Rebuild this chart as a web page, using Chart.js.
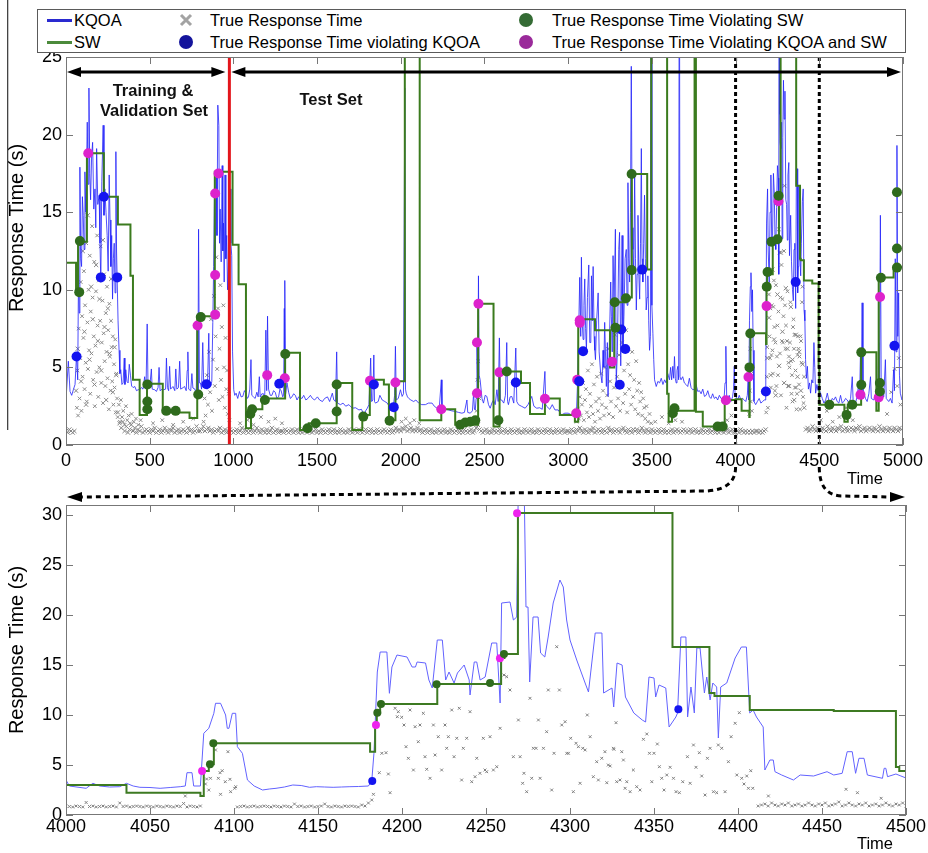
<!DOCTYPE html>
<html><head><meta charset="utf-8">
<script src="https://cdn.jsdelivr.net/npm/chart.js@4.4.0/dist/chart.umd.min.js"></script>
<style>
html,body{margin:0;padding:0;background:#fff;}
#wrap{position:relative;width:928px;height:853px;overflow:hidden;font-family:'Liberation Sans',Arial,sans-serif;}
canvas{position:absolute;left:0;}
#top{top:0;width:928px;height:470px;}
#bot{top:470px;width:928px;height:383px;}
#ov{top:0;width:928px;height:853px;pointer-events:none;}
#legend{position:absolute;left:37px;top:9px;width:867px;height:42px;border:1px solid #5a5a5a;background:#fff;font-size:16.5px;color:#000;}
#legend .tx{position:absolute;line-height:20px;white-space:nowrap;}
#legend .ln{position:absolute;width:25px;height:3px;}
#legend .dot{position:absolute;width:14px;height:14px;border-radius:50%;}
#legend svg{position:absolute;}
</style></head>
<body><div id="wrap">
<canvas id="top" width="928" height="470"></canvas>
<canvas id="bot" width="928" height="383"></canvas>
<canvas id="ov" width="928" height="853"></canvas>
<div id="legend">
 <span class="ln" style="left:9px;top:9px;background:#2a2ad0"></span><span class="tx" style="left:36px;top:0px">KQOA</span>
 <span class="ln" style="left:9px;top:31px;background:#4b8a3b"></span><span class="tx" style="left:36px;top:22px">SW</span>
 <svg style="left:141px;top:3px" width="14" height="14"><path d="M2 2L12 12M12 2L2 12" stroke="#a3a3a3" stroke-width="3"/></svg>
 <span class="tx" style="left:172px;top:0px">True Response Time</span>
 <span class="dot" style="left:141px;top:25px;background:#14149c"></span>
 <span class="tx" style="left:172px;top:22px">True Response Time violating KQOA</span>
 <span class="dot" style="left:481px;top:3px;background:#346b34"></span>
 <span class="tx" style="left:514px;top:0px">True Response Time Violating SW</span>
 <span class="dot" style="left:481px;top:25px;background:#9a2a9a"></span>
 <span class="tx" style="left:514px;top:22px">True Response Time Violating KQOA and SW</span>
</div>
</div>
<script>
// ---------------- DATA (time, response time in s) ----------------
const splitTime = 976, zoomStart = 4000, zoomEnd = 4500;
const topXTicks = [0,500,1000,1500,2000,2500,3000,3500,4000,4500,5000];
const topYTicks = [0,5,10,15,20,25];
const botXTicks = [4000,4050,4100,4150,4200,4250,4300,4350,4400,4450,4500];
const botYTicks = [0,5,10,15,20,25,30];

const kqoaTop = [[0,2.9],[14,5.4],[24,3.45],[34,3.2],[45,3.6],[54,3.9],[63,5.8],[70,4.2],[75,11.5],[79,8.5],[83,17.9],[88,12.0],[93,11.5],[98,16.0],[103,14.8],[108,12.6],[113,17.6],[118,15.0],[122,17.2],[127,20.8],[132,16.8],[137,23.0],[142,17.5],[147,15.8],[153,18.6],[159,19.5],[166,15.2],[173,16.5],[178,14.0],[183,19.1],[190,15.5],[198,16.1],[203,13.0],[208,10.5],[214,17.0],[222,20.6],[227,14.8],[232,16.5],[239,15.0],[246,13.5],[252,11.2],[258,17.4],[263,14.5],[268,11.5],[273,13.5],[278,9.4],[283,12.0],[288,13.0],[293,9.8],[298,18.9],[302,12.5],[306,10.5],[311,8.0],[317,6.1],[322,4.6],[327,4.85],[334,3.9],[341,4.0],[348,5.6],[352,3.9],[357,4.85],[364,4.1],[371,4.0],[378,5.2],[385,4.5],[392,3.8],[401,3.7],
[411,3.77],[421,3.5],[431,3.56],[440,3.56],[450,3.7],[460,3.6],[470,4.4],[478,3.6],[485,7.8],[490,3.77],[500,3.7],[510,4.9],[515,3.6],[530,3.56],[540,3.45],[550,3.7],[556,5.0],[562,3.5],[575,3.6],[583,3.56],[595,3.6],[600,5.6],[606,3.7],[613,3.5],[619,5.07],[625,3.6],[639,3.77],[650,3.5],[656,4.9],[662,3.6],[672,3.7],[679,5.4],[685,3.6],[700,3.7],[708,3.77],[718,3.5],[724,4.8],[728,6.0],[733,3.6],[745,3.5],[752,4.6],[758,3.67],[770,3.6],[778,3.3],[784,7.6],[788,3.4],[792,13.9],[797,4.0],[803,4.0],[810,3.6],[817,6.6],[823,3.7],[830,3.8],[837,4.0],[845,3.6],[853,7.2],[858,3.8],[865,3.8],[871,4.1],[877,7.9],[882,11.5],[887,16.3],[892,12.0],[897,17.4],[902,13.5],[907,21.9],[913,20.6],[917,13.0],[921,15.2],[927,11.8],[933,18.0],[937,12.5],[941,14.3],[945,10.5],[950,17.4],[955,12.0],[960,13.5],[965,10.0],[970,11.5],[975,14.0],[980,16.5],[985,13.0],[990,12.2],[995,6.0],[1002,3.56],
[1008,3.2],[1016,3.34],[1026,3.0],[1036,3.45],[1046,3.1],[1056,3.13],[1066,3.5],[1075,3.34],[1083,3.0],[1090,3.1],[1098,3.6],[1105,5.5],[1110,3.2],[1120,3.1],[1130,3.0],[1140,3.4],[1148,3.1],[1155,4.4],[1160,3.1],[1170,3.3],[1180,3.3],[1187,3.0],[1194,7.4],[1199,3.5],[1204,8.3],[1210,3.6],[1220,3.2],[1230,3.2],[1240,3.5],[1250,3.4],[1260,3.0],[1270,3.1],[1278,3.6],[1285,3.5],[1295,3.1],[1300,3.2],[1304,8.8],[1306,3.4],[1308,10.6],[1312,3.3],[1320,4.0],[1330,3.4],[1340,3.0],[1350,3.1],[1360,3.3],[1370,3.2],[1380,2.9],[1390,3.1],
[1410,3.0],[1420,3.2],[1433,2.9],[1445,3.0],[1460,3.2],[1472,3.0],[1485,2.9],[1502,3.1],[1515,2.9],[1532,2.8],[1545,3.0],[1562,3.1],[1575,2.8],[1591,3.34],[1600,2.9],[1610,2.8],[1617,6.0],[1622,2.7],[1640,2.6],[1655,2.7],[1671,2.5],[1690,2.6],[1710,2.37],[1730,2.4],[1750,2.26],[1765,2.3],[1780,1.94],[1790,2.2],[1800,2.37],[1810,2.6],[1820,5.6],[1826,2.8],[1833,2.9],[1839,5.8],[1843,2.8],[1849,2.7],[1865,2.8],[1875,3.2],[1889,2.9],[1905,2.8],[1919,2.7],[1930,2.5],[1939,2.37],[1950,2.6],[1958,2.7],[1963,3.2],[1968,6.36],[1973,2.9],[1985,3.0],[1998,3.56],[2008,3.13],[2016,3.3],[2024,23.0],[2028,3.6],[2032,3.34],[2040,3.1],[2048,3.0],[2060,2.9],[2077,2.8],[2090,2.9],[2107,2.7],[2125,2.6],[2147,2.6],[2165,2.7],[2187,2.7],[2200,2.5],[2216,2.37],[2230,2.4],[2242,4.2],[2246,2.4],[2250,2.26],[2270,2.3],[2286,2.26],[2305,2.2],[2326,2.16],[2345,2.1],[2365,2.05],[2380,2.1],[2395,2.9],[2400,2.1],[2415,2.05],[2428,2.2],[2435,3.34],[2440,2.3],[2445,2.26],[2450,3.0],[2455,6.6],[2460,3.5],[2464,10.9],[2468,4.5],[2474,4.2],[2485,3.0],[2494,2.7],[2504,3.2],[2514,3.13],[2524,2.6],[2534,2.37],[2544,2.7],[2554,2.9],[2564,2.6],[2574,3.56],[2582,2.8],[2589,6.9],[2595,2.9],[2603,2.9],[2615,2.7],[2625,3.2],[2633,6.6],[2638,2.8],[2643,2.6],[2653,3.1],[2663,3.13],[2675,2.7],[2687,6.25],[2693,2.8],[2703,2.6],[2720,2.5],[2743,2.37],[2760,2.6],[2782,3.13],[2795,2.5],[2812,2.37],[2830,2.4],[2845,2.3],[2861,4.74],[2866,2.6],[2871,2.5],[2890,2.3],[2905,2.6],[2921,2.26],[2940,2.26],[2960,1.94],[2980,2.05],[3000,2.05],[3020,1.94],[3040,1.9],[3050,2.2],
[3056,4.0],[3063,7.5],[3069,10.8],[3075,7.0],[3079,12.1],[3084,8.0],[3089,6.8],[3094,9.0],[3099,10.7],[3104,7.5],[3109,6.1],[3115,9.5],[3123,11.6],[3129,6.6],[3135,6.6],[3139,10.9],[3144,8.0],[3149,11.5],[3155,7.0],[3159,6.1],[3163,5.5],[3170,8.0],[3179,9.8],[3185,6.0],[3194,4.6],[3202,4.0],[3208,6.1],[3213,5.0],[3218,7.9],[3228,3.77],[3234,6.6],[3238,3.13],[3245,6.0],[3254,10.5],[3258,8.3],[3263,6.0],[3268,12.2],[3274,9.0],[3282,13.9],[3287,4.0],[3294,6.1],[3302,12.6],[3307,13.7],[3314,5.1],[3322,13.5],[3327,6.1],[3333,8.3],[3340,12.0],[3347,12.6],[3352,9.0],[3357,16.9],[3362,12.0],[3367,10.5],[3372,15.0],[3377,24.4],[3382,14.0],[3387,12.6],[3392,11.0],[3397,17.4],[3402,12.0],[3407,8.7],[3412,11.0],[3417,14.8],[3422,11.0],[3427,9.4],[3432,13.0],[3437,19.1],[3441,12.0],[3446,10.5],[3451,13.0],[3456,16.1],[3461,12.0],[3466,8.7],[3471,9.5],[3476,10.9],[3481,8.0],[3486,6.1],[3491,7.0],[3496,40],[3500,9.0],[3506,7.2],[3511,5.5],[3516,4.2],[3526,3.77],
[3536,4.1],[3546,4.0],[3556,4.3],[3566,3.9],[3576,4.2],[3585,4.0],[3595,4.6],[3605,4.2],[3612,5.0],[3618,4.2],[3625,5.07],[3630,4.3],[3635,5.7],[3640,4.3],[3645,4.0],[3650,4.8],[3655,5.07],[3660,4.2],[3664,40],[3668,4.4],[3674,4.2],[3684,4.4],[3694,4.0],[3704,3.9],[3714,3.77],[3724,4.3],[3734,3.7],[3744,3.56],[3754,3.6],[3764,3.9],[3774,3.45],[3784,3.5],[3794,3.3],[3804,3.6],[3814,3.13],[3824,3.2],[3834,3.5],[3844,3.1],[3853,3.0],[3863,3.3],[3873,3.0],[3883,3.1],[3893,2.9],[3903,3.2],[3913,3.0],[3923,3.0],[3932,3.1],[3937,4.0],[3942,6.36],[3947,3.0],[3952,2.9],[3962,3.2],[3972,2.8],[3982,3.1],[3988,3.6],[3992,5.07],[3997,3.2],[4002,3.13],
[4012,2.9],[4022,3.2],[4032,2.9],[4042,3.0],[4052,2.9],[4061,2.8],[4070,3.2],[4075,4.2],[4079,2.9],[4083,8.0],[4088,10.2],[4092,11.1],[4097,8.6],[4101,10.0],[4105,6.1],[4110,2.8],[4120,2.6],[4130,2.8],[4141,3.0],[4151,2.7],[4161,2.8],[4171,2.9],[4180,2.9],[4185,14.3],[4191,16.5],[4195,12.5],[4201,10.5],[4206,15.0],[4211,17.4],[4216,13.0],[4221,13.5],[4226,17.5],[4231,16.3],[4236,13.0],[4240,12.6],[4245,15.3],[4250,18.0],[4255,17.2],[4258,11.0],[4260,40],[4263,21.3],[4266,19.5],[4270,19.1],[4275,20.8],[4278,13.3],[4282,19.8],[4286,23.5],[4290,21.0],[4295,22.8],[4300,15.8],[4305,15.5],[4309,13.2],[4313,17.4],[4318,18.2],[4322,12.2],[4329,14.8],[4334,11.8],[4340,10.0],[4345,9.3],[4349,12.6],[4354,13.0],[4359,8.8],[4363,17.4],[4368,17.8],[4371,9.8],[4375,11.5],[4378,16.7],[4382,12.8],[4389,10.9],[4393,13.0],[4399,15.7],[4404,16.5],[4409,8.7],[4414,8.0],[4418,5.5],[4423,4.3],[4429,5.07],[4435,3.6],[4442,4.0],[4448,3.34],[4455,4.2],[4462,4.0],[4468,6.6],[4473,5.0],[4478,3.34],[4486,3.9],[4492,3.5],[4498,3.56],
[4508,3.34],[4518,3.0],[4528,2.7],[4538,2.9],[4548,3.34],[4558,2.8],[4567,2.7],[4577,3.0],[4587,2.9],[4597,3.1],[4607,2.8],[4617,2.7],[4627,3.2],[4637,2.7],[4647,2.8],[4657,3.0],[4667,2.9],[4677,2.7],[4687,3.0],[4697,4.4],[4702,2.9],[4716,2.7],[4726,3.1],[4736,4.0],[4741,3.0],[4746,5.93],[4751,3.3],[4756,9.16],[4761,3.4],[4766,3.34],[4776,3.0],[4786,2.8],[4796,3.3],[4806,4.4],[4811,3.0],[4825,2.9],[4835,3.2],[4845,3.34],[4850,3.0],[4855,6.6],[4860,3.5],[4865,14.8],[4870,3.6],[4875,3.34],[4885,3.1],[4895,5.5],[4900,3.0],[4915,2.8],[4925,3.0],[4935,2.7],[4944,4.85],[4949,3.5],[4954,12.0],[4959,6.0],[4964,19.3],[4969,7.0],[4974,9.8],[4979,4.5],[4984,3.34],[4994,2.9],[5000,3.0]];

// SW: value holds from the given time until the next entry
const swTop = [[0,11.75],[60,9.9],[72,13.1],[125,18.8],[226,16.0],[310,14.2],[385,10.9],[400,4.2],[440,1.94],[484,3.95],[578,2.1],[738,1.74],[784,8.3],[889,17.6],[995,12.9],[1031,10.35],[1075,1.08],[1105,2.3],[1173,3.0],[1309,5.95],[1398,0.97],[1450,1.4],[1617,4.0],[1710,0.97],[1770,1.94],[1815,4.2],[1899,3.9],[1929,1.6],[1968,4.1],[2024,40],[2113,1.6],[2242,2.3],[2325,1.3],[2462,9.1],[2554,1.2],[2590,4.74],[2718,4.0],[2772,2.0],[2861,3.0],[2950,1.94],[3040,1.5],[3060,8.1],[3160,7.4],[3250,5.0],[3275,9.2],[3345,9.5],[3380,17.46],[3472,11.3],[3496,40],[3591,3.3],[3600,1.5],[3620,2.2],[3755,40],[3763,2.15],[3804,1.2],[3935,2.9],[4000,2.95],[4036,2.2],[4082,1.8],[4084,5.0],[4089,7.2],[4182,6.5],[4185,10.2],[4188,11.0],[4222,13.1],[4259,15.6],[4261,16.0],[4269,40],[4362,16.7],[4385,12.0],[4389,11.9],[4408,10.6],[4458,10.4],[4496,5.0],[4500,2.6],[4650,1.5],[4670,2.6],[4750,5.97],[4841,2.2],[4855,10.8],[4944,11.45],[5000,11.45]];

const greenTop = [[79,9.85],[83,13.15],[486,3.9],[486,2.8],[486,2.3],[599,2.2],[655,2.2],[790,3.25],[805,8.24],[1101,2.0],[1112,2.3],[1188,2.9],[1310,5.86],[1443,1.08],[1492,1.4],[1617,3.9],[1617,2.16],[1776,1.83],[1933,1.57],[2355,1.3],[2385,1.45],[2415,1.5],[2445,1.6],[2583,1.6],[2633,4.74],[3278,9.2],[3282,7.55],[3345,9.45],[3379,11.27],[3379,17.46],[3625,2.05],[3635,2.37],[3893,1.19],[3923,1.19],[4083,5.0],[4088,7.18],[4186,10.2],[4191,11.15],[4214,13.1],[4250,13.26],[4257,16.06],[4560,2.6],[4663,1.94],[4697,2.6],[4751,5.97],[4751,3.88],[4862,3.99],[4862,3.45],[4868,10.78],[4964,16.28],[4964,12.66],[4964,11.43]];
const blueTop = [[63,5.7],[208,10.8],[226,16.0],[306,10.8],[839,3.92],[1274,3.95],[1839,3.9],[1958,2.44],[2687,4.03],[3066,4.1],[3089,6.04],[3308,3.88],[3317,7.44],[3341,6.19],[3442,11.3],[4181,3.45],[4359,10.5],[4949,6.4]];
const pinkTop = [[133,18.8],[786,7.7],[891,16.2],[911,17.5],[891,10.95],[891,8.4],[1202,4.5],[1307,4.3],[1816,4.14],[1968,4.03],[2242,2.3],[2455,3.34],[2455,6.6],[2464,9.1],[2589,4.68],[2861,2.98],[3048,2.05],[3054,4.2],[3069,7.87],[3069,8.04],[3262,5.37],[3942,2.88],[4077,4.38],[4185,8.95],[4256,15.7],[4746,3.23],[4855,3.07],[4863,9.54]];

// true response time, one reading every 10 time units from t = 0
const topBaseStep = 10;
const trueTopBase = [
0.9,0.8,1.0,0.9,0.8,0.9,3.5,6.2,9.8,4.1, 12.5,7.3,2.6,14.8,5.5,10.2,8.1,3.9,11.6,6.7,
9.4,4.8,13.2,7.6,2.9,8.8,5.9,10.7,3.4,6.3, 4.5,2.1,1.4,1.1,1.5,0.9,1.2,0.8,1.0,1.3,
0.9,1.1,0.8,1.0,0.9,1.2,0.8,0.9,1.0,0.9, 0.8,1.0,0.9,1.1,0.8,0.9,1.0,0.8,0.9,1.1,
0.9,0.8,1.0,0.9,1.1,0.8,0.9,1.0,0.8,0.9, 1.0,0.9,0.8,1.1,0.9,1.0,0.8,0.9,1.2,0.9,
0.9,1.0,1.2,0.9,1.0,1.1,0.9,1.0,0.8,0.9, 1.0,0.9,1.1,0.8,0.9,1.0,0.8,0.9,1.0,0.9,
0.8,0.9,1.0,0.8,0.9,1.1,0.8,1.0,0.9,0.8, 0.9,1.0,0.8,0.9,1.1,0.9,0.8,1.0,0.9,0.8,
1.0,0.8,0.9,1.1,0.8,0.9,1.0,0.8,0.9,0.9, 0.8,1.0,0.9,0.8,0.9,1.0,0.8,0.9,1.0,0.8,
0.9,0.8,1.0,0.9,0.8,0.9,1.0,0.8,0.9,1.0, 0.8,0.9,0.8,1.0,0.9,0.8,0.9,1.0,0.8,0.9,
1.0,0.8,0.9,0.8,1.0,0.9,0.8,0.9,0.8,1.0, 0.9,0.8,1.0,0.9,0.8,1.0,0.9,0.8,0.9,1.0,
0.8,0.9,1.0,0.8,0.9,0.8,1.0,0.9,0.8,0.9, 1.0,0.9,0.8,0.9,1.0,0.8,0.9,1.1,0.9,1.0,
0.9,1.1,1.0,1.2,0.9,1.0,1.1,0.9,1.0,0.9, 1.1,0.9,1.0,0.8,0.9,1.0,0.8,0.9,1.0,0.8,
0.9,0.8,1.0,0.9,0.8,0.9,1.0,0.8,0.9,0.8, 1.0,0.9,0.8,0.9,1.0,0.8,0.9,0.8,1.0,0.9,
0.8,0.9,1.0,0.8,0.9,1.1,1.3,1.0,0.9,0.8, 0.9,1.0,0.8,0.9,0.8,1.0,0.9,0.8,0.9,1.0,
0.8,0.9,1.0,0.8,0.9,0.8,1.0,0.9,0.8,0.9, 1.0,0.8,0.9,0.8,1.0,0.9,0.8,0.9,1.0,0.8,
0.9,0.8,1.0,0.9,0.8,0.9,1.0,0.8,0.9,1.0, 0.8,0.9,0.8,1.0,0.9,0.8,0.9,1.0,0.8,0.9,
0.9,0.8,1.0,0.9,0.8,1.0,0.9,1.1,0.9,0.8, 1.0,0.9,0.8,1.0,0.9,1.1,0.8,0.9,1.0,0.9,
0.8,1.0,0.9,0.8,1.1,0.9,1.0,0.8,0.9,1.0, 0.9,0.8,1.0,1.1,0.9,0.8,1.0,0.9,0.8,1.0,
0.9,1.0,0.8,0.9,1.1,0.9,0.8,1.0,0.9,0.8, 1.0,0.9,0.8,0.9,1.0,0.8,0.9,1.0,0.8,0.9,
0.8,0.9,1.0,0.8,0.9,1.0,0.9,0.8,0.9,1.0, 0.9,0.8,0.9,1.0,0.8,0.9,1.0,0.8,0.9,0.8,
1.0,0.9,0.8,0.9,1.0,0.8,0.9,1.0,0.8,0.9, 0.8,0.9,1.0,0.8,0.9,1.0,0.8,0.9,1.0,0.8,
0.8,0.9,0.8,1.0,0.9,0.8,0.9,0.8,0.9,0.8, 0.9,0.8,0.9,0.9,0.8,0.9,0.8,0.9,1.0,5.6,
8.2,4.5,11.3,6.8,3.2,9.7,5.1,12.4,7.3,4.0, 10.1,6.2,3.8,8.9,5.5,2.9,7.1,4.4,6.0,3.5,
5.2,2.4,1.0,1.1,0.9,1.0,1.2,1.0,0.9,1.1, 1.0,0.9,1.1,1.0,0.9,1.2,1.0,0.9,1.1,1.0,
0.9,1.1,1.0,1.2,0.9,1.0,1.1,0.9,1.0,1.1, 1.0,0.9,1.1,1.0,1.2,0.9,1.0,1.1,0.9,1.0,
1.1,1.0,0.9,1.1,1.0,0.9,1.2,1.0,0.9,1.1, 1.0,0.9,1.1,1.0,0.9,1.1,1.0,0.9,1.1,1.0];

const trueTopExtra = [[65,2.4],[68,4.8],[72,1.9],[76,7.5],[81,3.0],[85,5.6],[88,10.5],[92,2.2],[96,8.3],[99,4.4],[104,6.9],[107,11.2],[111,3.6],[114,9.0],[118,5.3],[121,13.0],[124,2.8],[128,7.9],[131,4.9],[135,10.0],[138,6.1],[142,12.2],[145,3.3],[148,8.6],[152,5.9],[156,14.1],[159,9.5],[162,4.2],[166,7.0],[169,11.8],[172,2.5],[176,6.4],[179,9.9],[183,4.7],[186,13.5],[189,7.7],[193,3.1],[196,10.6],[199,5.0],[204,8.0],[207,12.8],[211,4.0],[214,6.6],[218,9.3],[221,2.7],[225,7.2],[228,11.0],[231,5.4],[235,3.8],[238,8.5],[242,6.0],[245,10.2],[248,4.3],[252,7.4],[256,2.3],[259,9.1],[262,5.7],[266,3.5],[269,8.0],[273,6.3],[276,4.1],[280,7.0],[283,2.6],[287,5.2],[290,3.7],[294,6.8],[297,2.1],[301,4.6],[305,3.0],[309,1.8],
[316,2.6],[322,1.5],[328,2.9],[335,1.8],[342,2.2],[350,1.3],[358,2.5],[366,1.6],[374,1.9],[383,1.4],[392,2.0],[405,1.5],[418,1.7],[432,1.3],[446,1.6],[520,1.4],[575,1.6],[640,1.3],[700,1.5],[760,1.7],
[822,1.5],[828,3.0],[834,1.9],[842,4.5],[848,2.6],[855,6.0],[861,3.4],[866,8.1],[872,2.2],[878,5.5],[884,9.6],[889,3.8],[894,7.0],[898,12.1],[903,4.9],[908,8.8],[913,2.9],[917,6.2],[922,10.3],[926,4.2],[931,7.6],[935,3.1],[940,9.0],[944,5.0],[949,2.4],[953,6.9],[958,3.6],[962,4.8],[967,2.0],[972,3.3],[976,1.6],
[1040,1.4],[1085,1.6],[1120,1.3],[1165,1.8],[1210,1.5],[1250,1.7],[1290,1.4],[2005,1.5],[2030,1.7],[2055,1.4],[2080,1.6],[2110,1.4],[2452,2.2],[2458,4.2],[2463,5.4],[2470,3.0],
[3050,1.5],[3058,2.3],[3064,1.7],[3070,3.1],[3076,1.9],[3082,2.6],[3088,4.0],[3094,1.6],[3100,2.9],[3106,3.6],[3112,2.1],[3118,4.8],[3124,1.8],[3130,3.3],[3136,2.5],[3142,5.2],[3148,2.0],[3154,3.9],[3160,1.5],[3166,2.8],[3172,4.4],[3178,2.2],[3184,3.0],[3190,1.7],[3196,4.6],[3202,2.6],[3208,3.5],[3214,1.9],[3220,5.0],[3226,2.4],[3232,3.2],[3238,6.2],[3244,2.0],[3250,4.1],[3256,2.8],[3262,5.5],[3268,1.8],[3274,3.7],[3280,7.1],[3286,2.5],[3292,4.4],[3298,3.0],[3304,5.8],[3310,2.2],[3316,3.9],[3322,6.6],[3328,2.7],[3334,4.8],[3340,3.3],[3346,7.4],[3352,2.1],[3358,5.2],[3364,3.6],[3370,4.5],[3376,2.6],[3382,6.0],[3388,3.1],[3394,4.2],[3400,2.3],[3406,5.4],[3412,3.5],[3418,2.0],[3424,4.0],[3430,2.8],[3436,3.4],[3442,1.9],[3448,3.0],[3454,2.4],[3460,1.7],[3468,2.5],[3476,1.5],[3486,2.0],[3496,1.4],
[3520,1.5],[3560,1.8],[3600,1.4],[3625,2.2],[3640,1.6],[3680,1.5],[3950,1.6],[3975,1.9],[4082,2.0],[4085,3.5],[4088,6.2],[4091,2.8],[4094,4.6],[4097,2.2],
[4183,2.1],[4186,4.4],[4189,6.3],[4193,2.4],[4196,10.4],[4199,9.7],[4202,7.0],[4205,5.6],[4208,8.8],[4211,3.7],[4214,5.8],[4217,9.0],[4220,6.1],[4223,4.6],[4226,8.9],[4229,10.6],[4232,7.6],[4235,3.5],[4238,6.6],[4241,10.3],[4244,3.8],[4247,5.7],[4250,7.7],[4253,4.5],[4256,8.6],[4259,13.9],[4262,12.4],[4265,5.9],[4268,9.5],[4271,3.2],[4274,11.6],[4277,6.7],[4280,9.4],[4283,6.6],[4286,8.3],[4289,12.5],[4292,16.7],[4295,9.0],[4298,6.2],[4301,7.7],[4304,2.4],[4307,6.7],[4310,9.9],[4313,3.8],[4316,5.3],[4319,5.7],[4322,5.0],[4325,6.6],[4328,9.2],[4331,5.4],[4334,3.3],[4337,4.5],[4340,2.8],[4343,7.6],[4346,8.1],[4349,6.2],[4352,7.1],[4355,3.7],[4358,4.8],[4361,3.7],[4364,2.3],[4367,3.3],[4370,5.8],[4373,7.0],[4376,6.2],[4379,3.9],[4382,5.7],[4385,2.3],[4388,7.0],[4391,6.7],[4394,5.3],[4397,9.2],[4400,10.2],[4403,3.1],[4406,2.7],[4409,4.4],
[4510,1.6],[4545,2.2],[4580,1.5],[4620,1.8],[4660,2.4],[4700,1.6],[4905,2.0],[4930,3.4],[4950,4.9],[4958,6.5],[4966,3.8],[4975,5.6],[4985,2.6]];

// ---- zoomed panel (4000-4500) ----
const kqoaZoom = [[4000,3.5],[4002,2.9],[4012,2.67],[4016,3.17],[4020,2.9],[4026,2.8],[4032,2.83],[4036,3.17],[4040,2.9],[4044,2.77],[4050,2.75],[4056,2.67],[4062,2.75],[4068,2.83],[4071,2.9],[4072,4.23],[4075,4.23],[4076,2.9],[4080,2.9],[4082,8.17],[4085,8.67],[4088,10.17],[4089,11.17],[4092,11.17],[4095,10.0],[4096,8.67],[4097,8.67],[4099,10.17],[4101,10.17],[4102,6.83],[4105,6.17],[4108,3.5],[4112,2.9],[4117,2.5],[4121,2.6],[4125,2.67],[4130,2.8],[4135,3.0],[4140,2.95],[4145,2.77],[4149,2.83],[4154,2.8],[4159,2.77],[4164,2.8],[4169,2.83],[4174,2.85],[4180,2.9],[4182,3.4],[4183.3,6.17],[4185.3,14.3],[4187,16.3],[4191,16.3],[4192.5,12.17],[4194,14.8],[4197,16.0],[4203,15.8],[4206,14.8],[4208,14.8],[4209,15.3],[4214,15.2],[4216,13.5],[4218,12.7],[4221,17.5],[4224,17.5],[4226,13.5],[4228,14.3],[4231,13.2],[4233,14.2],[4237,15.0],[4240,13.5],[4240.5,12.0],[4243,15.3],[4244.5,15.3],[4246.5,13.5],[4249.5,13.8],[4253.4,17.2],[4256.4,17.2],[4258.4,11.2],[4259.3,21.2],[4264.3,21.3],[4266.3,19.5],[4268.3,19.8],[4269.3,34],[4272.6,34],[4273.8,20.8],[4275,20.8],[4276,13.3],[4278,19.8],[4281,19.8],[4282.5,16.2],[4285,15.8],[4287,17.8],[4290,21.2],[4294,23.5],[4296,22.8],[4298,19.5],[4300,17.5],[4304,15.5],[4309,13.2],[4311,12.3],[4315,18.2],[4319,18.2],[4320,12.2],[4325,12.7],[4326,10.8],[4328,15.2],[4331,15.0],[4333,11.8],[4338,10.2],[4343,9.5],[4345,9.3],[4347,13.8],[4350,13.7],[4351,11.8],[4353,13.0],[4357,12.7],[4359,8.8],[4363,9.8],[4364,10.2],[4366,17.8],[4369,17.8],[4370,9.8],[4372,12.8],[4374,10.2],[4375.5,16.7],[4377.4,16.7],[4380,12.2],[4381.4,13.8],[4383.4,11.5],[4385,13.2],[4387.3,12.8],[4388.3,7.7],[4389.7,12.8],[4393.3,13.2],[4398.3,15.7],[4402,16.8],[4405,16.8],[4407,10.2],[4409,10.5],[4411,9.8],[4415,8.8],[4416,4.5],[4419,5.5],[4421,5.5],[4422,4.33],[4426,4.0],[4433,3.5],[4437,4.0],[4445,3.9],[4450,4.17],[4453,4.33],[4457,4.0],[4462,4.17],[4465,6.33],[4468,6.33],[4470,4.17],[4472,5.67],[4475,5.67],[4477,4.0],[4486,3.67],[4487,4.67],[4488,4.67],[4489,3.83],[4494,4.1],[4497,3.9],[4500,3.7]];

const swZoom = [[4000,3.0],[4036,2.23],[4080,1.9],[4082,4.4],[4085,5.07],[4088,7.17],[4181,6.33],[4184,9.0],[4185,10.2],[4187,11.1],[4221,13.1],[4259,15.7],[4261,16.1],[4269,30.2],[4361,16.8],[4383,12.2],[4386,11.9],[4407,10.5],[4457,10.4],[4494,4.8],[4496,4.4],[4500,4.4]];

const greenZoom = [[4085.7,5.07],[4087.7,7.17],[4185.3,10.23],[4187.5,11.1],[4220.6,13.07],[4252.4,13.2],[4260.7,16.1]];
const blueZoom = [[4182.3,3.4],[4364.5,10.57]];
const pinkZoom = [[4081,4.4],[4184.5,9.0],[4258.3,15.67],[4268.5,30.17]];

// true response time baseline in the zoom, one reading every 2 time units
const zoomBaseStep = 2;
const zoomBase1Start = 4000;
const zoomBase1 = [0.9,0.85,0.8,0.9,0.85,0.8,1.25,0.85,0.9,0.8,0.85,0.9,0.8,0.85,0.9,0.8,1.2,0.85,0.9,0.8,0.85,0.9,0.85,0.8,0.9,0.85,0.8,0.9,0.85,0.8,0.9,0.85,0.8,0.9,0.85,1.15,0.8,0.9,0.85,0.8,0.9];
const zoomBase2Start = 4102;
const zoomBase2 = [0.8,0.85,0.9,0.8,0.85,0.9,0.8,0.85,0.9,0.85,0.8,0.9,0.85,0.8,0.9,0.85,0.8,1.1,0.85,0.9,0.8,0.85,0.9,0.8,0.85,0.9,1.1,0.85,0.8,0.9,0.85,0.8,0.9,0.85,0.9,0.85,0.8,1.0,0.9,1.2,1.5];
const zoomBase3Start = 4412;
const zoomBase3 = [0.9,1.0,1.1,0.9,1.2,1.0,0.9,1.1,1.0,1.2,0.9,1.0,1.1,0.9,1.0,1.2,1.0,0.9,1.1,1.0,1.2,0.9,1.0,1.1,1.3,0.9,1.0,1.2,1.0,0.9,1.1,1.0,1.2,0.9,1.0,1.1,0.9,1.0,1.2,1.0,0.9,1.1,1.0,1.2,0.9];
const trueZoom = [[4071,1.9],[4083,3.1],[4083.7,3.6],[4085,2.5],[4086,3.67],[4089,6.5],[4090.7,3.67],[4091.7,4.23],[4092,2.07],[4093,4.43],[4094.8,3.33],[4096.4,6.33],[4097.6,3.57],[4098,2.33],[4100.4,2.67],[4101,2.83],
[4183,2.07],[4186.5,4.23],[4188,6.17],[4190.5,6.23],[4191.9,4.1],[4192.9,2.23],[4195.9,10.67],[4197.2,9.83],[4197.8,10.33],[4199.8,9.77],[4201.2,9.0],[4202.4,6.83],[4203.8,5.67],[4204.8,10.5],[4206.8,4.5],[4207.8,8.83],[4209.7,7.33],[4210.7,9.0],[4212.7,10.17],[4213.7,5.83],[4214.7,4.57],[4216.7,3.67],[4218.7,9.0],[4219.7,6.0],[4221.6,7.83],[4223.6,4.5],[4225.6,9.0],[4226.6,6.67],[4227.6,7.83],[4229.6,10.5],[4231,5.83],[4232.6,7.67],[4234.1,10.67],[4235.5,3.5],[4236.5,6.67],[4238.5,7.67],[4240.5,10.33],[4241.5,3.33],[4243.5,3.83],[4244.5,5.67],[4246.4,4.17],[4248.4,7.67],[4249.4,4.5],[4250.4,4.33],[4252.4,7.83],[4254.4,4.5],[4256.4,4.83],[4258.4,8.67],[4260.7,14.0],[4262.3,13.83],[4264.3,12.5],[4266.3,5.83],[4269.3,9.5],[4270.3,5.83],[4271.8,3.17],[4272.6,4.17],[4274.2,2.33],[4276.2,11.67],[4277.2,3.67],[4278.2,6.67],[4279.8,6.67],[4281.2,9.5],[4282.2,3.67],[4284.2,6.67],[4286.1,8.33],[4287.1,12.5],[4289.1,2.5],[4290.5,6.17],[4292.1,16.83],[4293.7,12.5],[4295.1,9.0],[4297.1,9.33],[4298.1,6.17],[4299.1,6.17],[4300.4,7.67],[4302,2.33],[4303.6,7.17],[4305,6.83],[4306,3.17],[4307.6,6.67],[4309,6.5],[4310.3,10.0],[4312,7.83],[4313.9,3.83],[4315.9,5.33],[4316.9,3.5],[4318.9,5.67],[4320.8,6.33],[4321.9,3.23],[4322.8,5.0],[4323.9,4.9],[4325.8,6.67],[4326.2,6.57],[4327.4,9.23],[4327.8,3.33],[4329.8,3.5],[4330.8,6.33],[4331.8,5.5],[4332.8,2.67],[4333.8,3.33],[4335.8,2.33],[4337.7,4.5],[4339.7,2.83],[4341.7,2.5],[4343.7,7.57],[4345.7,8.1],[4347.3,6.17],[4348.7,3.33],[4350,6.17],[4352,7.1],[4353.2,4.83],[4354.6,3.67],[4356,2.5],[4357.6,4.0],[4359.6,4.77],[4361.6,3.67],[4363.1,2.33],[4365.1,2.23],[4367.1,3.33],[4369.9,5.83],[4371.5,3.17],[4373.5,7.0],[4375,4.77],[4377,6.23],[4378.4,3.9],[4380.4,2.0],[4381.8,5.67],[4383.4,6.67],[4385.4,2.33],[4387.3,2.23],[4388.3,7.0],[4390.3,6.67],[4392.3,2.33],[4394.3,5.33],[4395.9,7.83],[4398.3,9.17],[4399.3,4.0],[4400.8,10.23],[4402.2,3.67],[4403.6,3.1],[4405.2,3.9],[4406.2,2.67],[4407.6,4.43],[4408.8,2.67],[4418.1,1.9],[4464.3,2.57],[4471.1,2.23],[4485.2,1.67]];

// ---------------- DRAWING ----------------
const FONT = "'Liberation Sans', Arial, Helvetica, sans-serif";
Chart.defaults.font.family = FONT;
Chart.defaults.color = '#000';
const pts = arr => arr.map(([t, v]) => ({x: t, y: v}));
const stepPts = (arr, start, step) => arr.map((v, i) => ({x: start + i * step, y: v}));

function frame(xTicks, yTicks, title, titleY) {
  return {
    id: 'frame',
    afterDraw(chart) {
      const {ctx, chartArea: a, scales: {x, y}} = chart;
      ctx.save();
      ctx.strokeStyle = '#777'; ctx.lineWidth = 1;
      ctx.strokeRect(Math.round(a.left) + 0.5, Math.round(a.top) + 0.5, Math.round(a.right - a.left) - 1, Math.round(a.bottom - a.top) - 1);
      ctx.beginPath();
      for (const t of xTicks) {
        const px = Math.round(x.getPixelForValue(t)) + 0.5;
        ctx.moveTo(px, a.bottom); ctx.lineTo(px, a.bottom - 7);
        ctx.moveTo(px, a.top); ctx.lineTo(px, a.top + 7);
      }
      for (const v of yTicks) {
        const py = Math.round(y.getPixelForValue(v)) + 0.5;
        ctx.moveTo(a.left, py); ctx.lineTo(a.left + 7, py);
        ctx.moveTo(a.right, py); ctx.lineTo(a.right - 7, py);
      }
      ctx.stroke();
      ctx.translate(17, titleY); ctx.rotate(-Math.PI / 2);
      ctx.fillStyle = '#000'; ctx.font = '20px ' + FONT; ctx.textAlign = 'center'; ctx.textBaseline = 'middle';
      ctx.fillText(title, 0, 0);
      ctx.restore();
    }
  };
}

function doubleArrow(ctx, x1, x2, y) {
  const len = 14, half = 5;
  ctx.beginPath(); ctx.moveTo(x1 + len - 2, y); ctx.lineTo(x2 - len + 2, y); ctx.stroke();
  ctx.beginPath(); ctx.moveTo(x1, y); ctx.lineTo(x1 + len, y - half); ctx.lineTo(x1 + len, y + half); ctx.closePath(); ctx.fill();
  ctx.beginPath(); ctx.moveTo(x2, y); ctx.lineTo(x2 - len, y - half); ctx.lineTo(x2 - len, y + half); ctx.closePath(); ctx.fill();
}

const annotTop = {
  id: 'annotTop',
  afterDatasetsDraw(chart) {
    const {ctx, chartArea: a, scales: {x}} = chart;
    ctx.save();
    const rx = x.getPixelForValue(splitTime);
    ctx.strokeStyle = '#e3161c'; ctx.lineWidth = 3;
    ctx.beginPath(); ctx.moveTo(rx, a.top); ctx.lineTo(rx, a.bottom); ctx.stroke();
    ctx.strokeStyle = '#000'; ctx.lineWidth = 3; ctx.setLineDash([4, 3]);
    for (const t of [zoomStart, zoomEnd]) {
      const px = x.getPixelForValue(t);
      ctx.beginPath(); ctx.moveTo(px, a.top); ctx.lineTo(px, a.bottom); ctx.stroke();
    }
    ctx.setLineDash([]);
    ctx.fillStyle = '#000'; ctx.lineWidth = 3;
    const ay = a.top + 15;
    doubleArrow(ctx, a.left + 1, rx - 4, ay);
    doubleArrow(ctx, rx + 2, a.right - 2, ay);
    ctx.fillStyle = '#111'; ctx.font = 'bold 16.5px ' + FONT; ctx.textAlign = 'center'; ctx.textBaseline = 'middle';
    ctx.fillText('Training &', 153, 91);
    ctx.fillText('Validation Set', 154, 111);
    ctx.fillText('Test Set', 331, 100);
    ctx.restore();
  }
};

const timeBot = {
  id: 'timeBot',
  afterDraw(chart) {
    const ctx = chart.ctx;
    ctx.save(); ctx.fillStyle = '#000'; ctx.font = '16.5px ' + FONT; ctx.textAlign = 'center'; ctx.textBaseline = 'middle';
    ctx.fillText('Time', 875, 374); ctx.restore();
  }
};

function baseOptions(xmin, xmax, xstep, ymax, xH, padTop, xPad) {
  return {
    responsive: false, animation: false, events: [], devicePixelRatio: 1,
    layout: {padding: {top: padTop, right: 22, left: 0, bottom: 0}},
    plugins: {legend: {display: false}, tooltip: {enabled: false}},
    scales: {
      x: {type: 'linear', min: xmin, max: xmax,
          ticks: {stepSize: xstep, maxRotation: 0, autoSkip: false, includeBounds: false, font: {size: 18}, color: '#000', padding: xPad,
                  callback: v => String(v)},
          grid: {display: false, drawTicks: false}, border: {display: false},
          afterFit: s => { s.height = xH; }},
      y: {type: 'linear', min: 0, max: ymax,
          ticks: {stepSize: 5, includeBounds: false, font: {size: 18}, color: '#000', padding: 4, callback: v => String(v)},
          grid: {display: false, drawTicks: false}, border: {display: false},
          afterFit: s => { s.width = 66; }}
    }
  };
}

const dotSet = (data, color, r) => ({data, pointRadius: r, pointBackgroundColor: color, backgroundColor: color, pointBorderWidth: 0, borderWidth: 0, showLine: false, order: 0});

const topChart = new Chart(document.getElementById('top'), {
  type: 'scatter',
  data: {datasets: [
    {data: stepPts(trueTopBase, 0, topBaseStep), pointStyle: 'crossRot', pointRadius: 3, pointBorderColor: '#858585', borderColor: '#858585', pointBorderWidth: 1, showLine: false, order: 4},
    {data: pts(trueTopExtra), pointStyle: 'crossRot', pointRadius: 2.5, pointBorderColor: '#8a8a8a', borderColor: '#8a8a8a', pointBorderWidth: 1, showLine: false, order: 4},
    {data: pts(kqoaTop), showLine: true, borderColor: 'rgba(35,35,250,0.8)', borderWidth: 1, pointRadius: 0, order: 3},
    {data: pts(swTop), showLine: true, stepped: 'before', borderColor: '#3b7b1e', borderWidth: 2, pointRadius: 0, order: 2},
    dotSet(pts(greenTop), '#2f6b1d', 5),
    dotSet(pts(blueTop), '#1414f0', 5),
    dotSet(pts(pinkTop), '#dd22cc', 5)
  ]},
  options: baseOptions(0, 5000, 500, 25, 25, 57, 5),
  plugins: [annotTop, frame(topXTicks, topYTicks, 'Response Time (s)', 228)]
});

const botChart = new Chart(document.getElementById('bot'), {
  type: 'scatter',
  data: {datasets: [
    {data: stepPts(zoomBase1, zoomBase1Start, zoomBaseStep).concat(stepPts(zoomBase2, zoomBase2Start, zoomBaseStep), stepPts(zoomBase3, zoomBase3Start, zoomBaseStep)),
     pointStyle: 'crossRot', pointRadius: 2, pointBorderColor: '#808080', borderColor: '#808080', pointBorderWidth: 1, showLine: false, order: 4},
    {data: pts(trueZoom), pointStyle: 'crossRot', pointRadius: 2, pointBorderColor: '#808080', borderColor: '#808080', pointBorderWidth: 1, showLine: false, order: 4},
    {data: pts(kqoaZoom), showLine: true, borderColor: '#6262ff', borderWidth: 1, pointRadius: 0, order: 3},
    {data: pts(swZoom), showLine: true, stepped: 'before', borderColor: '#3d7a22', borderWidth: 2, pointRadius: 0, order: 2},
    dotSet(pts(greenZoom), '#2f6b1d', 4),
    dotSet(pts(blueZoom), '#1414f0', 4),
    dotSet(pts(pinkZoom), '#ee22ee', 4)
  ]},
  options: baseOptions(4000, 4500, 50, 31, 38, 35, 1),
  plugins: [frame(botXTicks, botYTicks, 'Response Time (s)', 180), timeBot]
});

// overlay: connectors between the panels
(function drawOverlay() {
  const c = document.getElementById('ov').getContext('2d');
  const xs = topChart.scales.x;
  const tb = topChart.chartArea;
  const a2 = botChart.chartArea;
  const botOff = 470;
  const x4000 = xs.getPixelForValue(zoomStart), x4500 = xs.getPixelForValue(zoomEnd);
  const yH = botOff + a2.top - 8;
  c.fillStyle = '#444'; c.fillRect(7, 0, 1.3, 430);
  c.strokeStyle = '#000'; c.fillStyle = '#000'; c.lineWidth = 3; c.setLineDash([5, 4]);
  c.beginPath(); c.moveTo(x4000, tb.bottom + 22); c.quadraticCurveTo(x4000, yH - 8, x4000 - 28, yH - 6); c.lineTo(a2.left + 14, yH); c.stroke();
  c.beginPath(); c.moveTo(x4500, tb.bottom + 22); c.quadraticCurveTo(x4500, yH - 2, x4500 + 22, yH - 1); c.lineTo(a2.right - 14, yH); c.stroke();
  c.setLineDash([]);
  c.beginPath(); c.moveTo(a2.left + 1, yH); c.lineTo(a2.left + 16, yH - 5); c.lineTo(a2.left + 16, yH + 5); c.closePath(); c.fill();
  c.beginPath(); c.moveTo(a2.right - 1, yH); c.lineTo(a2.right - 16, yH - 5); c.lineTo(a2.right - 16, yH + 5); c.closePath(); c.fill();
  c.font = '16.5px ' + FONT; c.textAlign = 'center'; c.textBaseline = 'middle';
  c.fillText('Time', 865, 479);
})();
</script>
</body></html>
